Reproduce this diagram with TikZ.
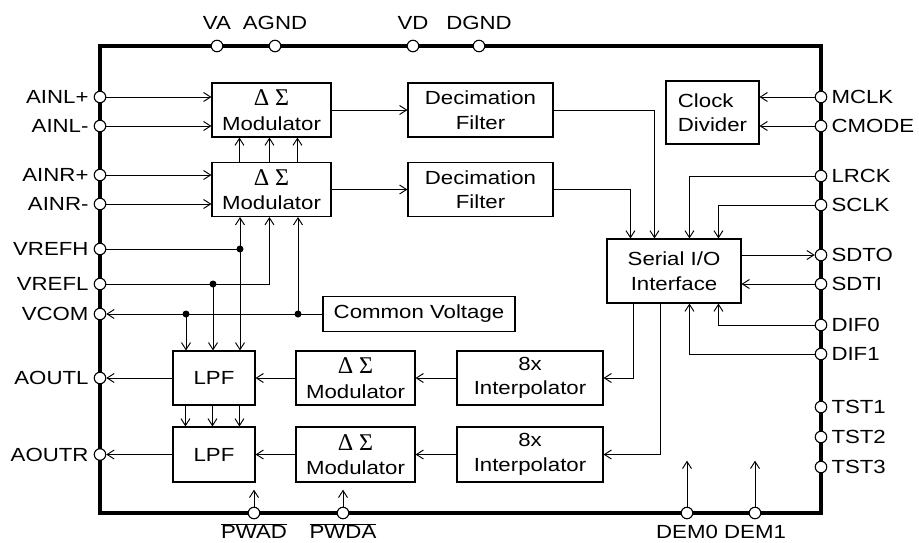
\documentclass[tikz,border=0pt]{standalone}
\usepackage{fontspec}
\setmainfont[FakeStretch=1.17]{Liberation Sans}
\newfontfamily\grk{Liberation Serif}
\newcommand{\dsig}{{\grk\fontsize{24}{24.5}\selectfont Δ\hspace{0.25em}Σ}}
\usetikzlibrary{arrows.meta}
\begin{document}
\begin{tikzpicture}[x=1pt,y=-1pt,
  font=\fontsize{19}{24.5}\selectfont,
  blk/.style={draw, line width=1.1pt, inner sep=0pt, align=center},
  pinc/.style={circle, draw, fill=white, line width=1.1pt, minimum size=11.5pt, inner sep=0pt},
  arr/.style={-{Straight Barb[length=7pt,width=9pt]}, line width=0.95pt},
  wire/.style={line width=0.95pt},
  jdot/.style={circle, fill, minimum size=7pt, inner sep=0pt},
  lbl/.style={inner sep=0pt}]
\useasboundingbox (0,0) rectangle (919,542);

% chip outline
\node[draw, line width=4.5pt, minimum width=721pt, minimum height=467pt, inner sep=0pt] (chip) at (460.5,279.5) {};

% blocks
\node[blk, minimum width=119pt, minimum height=54pt] (mod1) at (271.5,110) {\dsig\\Modulator};
\node[blk, minimum width=119pt, minimum height=54pt] (mod2) at (271.5,189.5) {\dsig\\Modulator};
\node[blk, minimum width=145pt, minimum height=54pt] (dec1) at (480.5,110) {Decimation\\Filter};
\node[blk, minimum width=145pt, minimum height=54pt] (dec2) at (480.5,189.5) {Decimation\\Filter};
\node[blk, minimum width=93pt, minimum height=63pt, align=left] (clk) at (712.5,112.5) {Clock\\Divider};
\node[blk, minimum width=134pt, minimum height=64pt] (sio) at (674,271) {Serial I/O\\Interface};
\node[blk, minimum width=192pt, minimum height=35pt] (cv) at (419,314) {Common Voltage};
\node[blk, minimum width=82pt, minimum height=54pt] (lpf1) at (214,378) {LPF};
\node[blk, minimum width=82pt, minimum height=55pt] (lpf2) at (214,454.5) {LPF};
\node[blk, minimum width=119pt, minimum height=54pt] (dmod1) at (355.5,378) {\dsig\\Modulator};
\node[blk, minimum width=119pt, minimum height=55pt] (dmod2) at (355.5,454.5) {\dsig\\Modulator};
\node[blk, minimum width=146pt, minimum height=54pt] (int1) at (530,378) {8x\\Interpolator};
\node[blk, minimum width=146pt, minimum height=55pt] (int2) at (530,454.5) {8x\\Interpolator};

% pins left
\node[pinc] (ainlp) at (100,97) {};
\node[pinc] (ainlm) at (100,126) {};
\node[pinc] (ainrp) at (100,175) {};
\node[pinc] (ainrm) at (100,204) {};
\node[pinc] (vrefh) at (100,249) {};
\node[pinc] (vrefl) at (100,284) {};
\node[pinc] (vcom) at (100,314) {};
\node[pinc] (aoutl) at (100,378) {};
\node[pinc] (aoutr) at (100,454.5) {};
% pins top
\node[pinc] (va) at (217,46) {};
\node[pinc] (agnd) at (275,46) {};
\node[pinc] (vd) at (413,46) {};
\node[pinc] (dgnd) at (479,46) {};
% pins right
\node[pinc] (mclk) at (821,97) {};
\node[pinc] (cmode) at (821,126) {};
\node[pinc] (lrck) at (821,176) {};
\node[pinc] (sclk) at (821,205) {};
\node[pinc] (sdto) at (821,255) {};
\node[pinc] (sdti) at (821,284) {};
\node[pinc] (dif0) at (821,325) {};
\node[pinc] (dif1) at (821,354) {};
\node[pinc] (tst1) at (821,407) {};
\node[pinc] (tst2) at (821,437) {};
\node[pinc] (tst3) at (821,467) {};
% pins bottom
\node[pinc] (pwad) at (254,513) {};
\node[pinc] (pwda) at (343,513) {};
\node[pinc] (dem0) at (687,513) {};
\node[pinc] (dem1) at (755,513) {};

% labels left
\foreach \p/\t in {ainlp/AINL+, ainlm/AINL-, ainrp/AINR+, ainrm/AINR-, vrefh/VREFH, vrefl/VREFL, vcom/VCOM, aoutl/AOUTL, aoutr/AOUTR}
  \node[lbl, anchor=east] (t-\p) at ([xshift=-5pt]\p.west) {\t};
% labels right
\foreach \p/\t in {mclk/MCLK, cmode/CMODE, lrck/LRCK, sclk/SCLK, sdto/SDTO, sdti/SDTI, dif0/DIF0, dif1/DIF1, tst1/TST1, tst2/TST2, tst3/TST3}
  \node[lbl, anchor=west] (t-\p) at ([xshift=4pt]\p.east) {\t};
% labels top
\foreach \p/\t in {va/VA, agnd/AGND, vd/VD, dgnd/DGND}
  \node[lbl, anchor=base] (t-\p) at ([yshift=10pt]\p.north) {\t};
% labels bottom
\node[lbl, anchor=base] (t-pwad) at ([yshift=-19pt]pwad.south) {$\overline{\mbox{PWAD}}$};
\node[lbl, anchor=base] (t-pwda) at ([yshift=-19pt]pwda.south) {$\overline{\mbox{PWDA}}$};
\node[lbl, anchor=base] (t-dem0) at ([yshift=-19pt]dem0.south) {DEM0};
\node[lbl, anchor=base] (t-dem1) at ([yshift=-19pt]dem1.south) {DEM1};

% ADC inputs
\draw[arr] (ainlp) -- (ainlp -| mod1.west);
\draw[arr] (ainlm) -- (ainlm -| mod1.west);
\draw[arr] (ainrp) -- (ainrp -| mod2.west);
\draw[arr] (ainrm) -- (ainrm -| mod2.west);
\draw[arr] (mod1) -- (dec1);
\draw[arr] (mod2) -- (dec2);
\foreach \o in {28,58,86}
  \draw[arr] ([xshift=\o pt]mod2.north west) -- ([xshift=\o pt]mod1.south west);

% references
\node[jdot] (dh) at (240,249) {};
\node[jdot] (dl) at (213,284) {};
\node[jdot] (dc1) at (186,314) {};
\node[jdot] (dc2) at (298,314) {};
\draw[wire] (vrefh) -- (dh.center);
\draw[arr] (dh.center) -- (dh |- mod2.south);
\draw[arr] (dh.center) -- (dh |- lpf1.north);
\draw[arr] (vrefl) -| ([xshift=58pt]mod2.south west);
\draw[arr] (dl.center) -- (dl |- lpf1.north);
\draw[arr] (cv.west) -- (vcom);
\draw[arr] (dc2.center) -- (dc2 |- mod2.south);
\draw[arr] (dc1.center) -- (dc1 |- lpf1.north);

% to serial
\draw[arr] (dec1.east) -| ([xshift=48pt]sio.north west);
\draw[arr] (dec2.east) -| ([xshift=24pt]sio.north west);
\draw[arr] (lrck) -| ([xshift=83pt]sio.north west);
\draw[arr] (sclk) -| ([xshift=112pt]sio.north west);
\draw[arr] (sio.east |- sdto) -- (sdto);
\draw[arr] (sdti) -- (sio.east |- sdti);
\draw[arr] (dif0) -| ([xshift=112pt]sio.south west);
\draw[arr] (dif1) -| ([xshift=83pt]sio.south west);
\draw[arr] ([xshift=27pt]sio.south west) |- (int1.east);
\draw[arr] ([xshift=54pt]sio.south west) |- (int2.east);

% clock
\draw[arr] (mclk) -- (mclk -| clk.east);
\draw[arr] (cmode) -- (cmode -| clk.east);

% DAC path
\draw[arr] (int1) -- (dmod1);
\draw[arr] (dmod1) -- (lpf1);
\draw[arr] (lpf1) -- (aoutl);
\draw[arr] (int2) -- (dmod2);
\draw[arr] (dmod2) -- (lpf2);
\draw[arr] (lpf2) -- (aoutr);
\foreach \o in {13,40,67}
  \draw[arr] ([xshift=\o pt]lpf1.south west) -- ([xshift=\o pt]lpf2.north west);

% bottom control pins
\coordinate (pwadE) at ([yshift=17pt]pwad.north);
\coordinate (pwdaE) at ([yshift=17pt]pwda.north);
\coordinate (dem0E) at ([yshift=46pt]dem0.north);
\coordinate (dem1E) at ([yshift=46pt]dem1.north);
\draw[arr] (pwad) -- (pwadE);
\draw[arr] (pwda) -- (pwdaE);
\draw[arr] (dem0) -- (dem0E);
\draw[arr] (dem1) -- (dem1E);
\end{tikzpicture}
\end{document}
